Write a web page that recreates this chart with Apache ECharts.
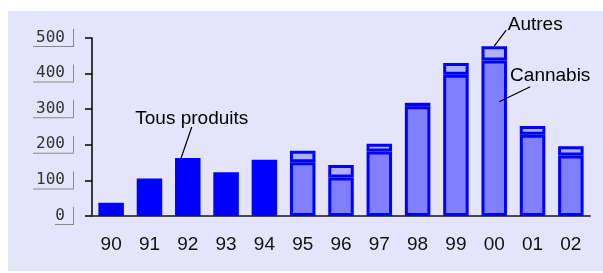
<!DOCTYPE html>
<html>
<head>
<meta charset="utf-8">
<script src="https://cdn.jsdelivr.net/npm/echarts@6/dist/echarts.min.js"></script>
<style>
  html, body { margin: 0; padding: 0; background: #fff; }
  #wrap { position: relative; width: 603px; height: 273px; }
  #bg { position: absolute; left: 8px; top: 11px; right: 0; bottom: 2px; background: #e4e4fa; }
  #chart { position: absolute; left: 0; top: 0; width: 603px; height: 273px; }
</style>
</head>
<body>
<div id="wrap"><div id="bg"></div><div id="chart"></div></div>
<script>
// années
const years = ['90', '91', '92', '93', '94', '95', '96', '97', '98', '99', '00', '01', '02']
// tous produits confondus (90-94)
const tous = [37, 105, 163, 123, 158, '-', '-', '-', '-', '-', '-', '-', '-']
// cannabis (95-02)
const cannabis = ['-', '-', '-', '-', '-', 151, 108, 181, 308, 397, 437, 228, 170]
// autres produits (95-02)
const autres = ['-', '-', '-', '-', '-', 32, 35, 22, 10, 33, 40, 25, 26]

// annotations: texte + point d'ancrage (catégorie, valeur)
const notes = [
  { text: 'Tous produits', cat: '92', val: 163 },
  { text: 'Autres', cat: '00', val: 477 },
  { text: 'Cannabis', cat: '00', val: 321 }
]
// décalages en pixels (ligne + texte)
const noteStyle = [
  { lx: -7, ly: 1, ex: 11, ey: -32, tx: 11, ty: -40 },
  { lx: 0, ly: 0, ex: 12, ey: -16, tx: 41, ty: -21 },
  { lx: 5, ly: 0, ex: 31, ey: -15, tx: 51, ty: -26 }
]

const myChart = echarts.init(document.getElementById('chart'))

const barBase = {
  type: 'bar',
  stack: 'tot',
  barWidth: 25.5,
  animation: false
}

const option = {
  animation: false,
  grid: { left: 92, right: 13, top: 38, bottom: 57 },
  xAxis: {
    type: 'category',
    data: years,
    axisTick: { show: false },
    axisLine: { lineStyle: { color: '#4a4a4a', width: 2 } },
    axisLabel: {
      margin: 19,
      fontFamily: 'Liberation Sans, Arial',
      fontSize: 19,
      color: '#111'
    }
  },
  yAxis: {
    type: 'value',
    min: 0,
    max: 500,
    interval: 100,
    splitLine: { show: false },
    axisLine: { show: true, lineStyle: { color: '#000', width: 1.5 } },
    axisTick: { show: true, length: 7, lineStyle: { color: '#000', width: 1.5 } },
    axisLabel: {
      margin: 18,
      formatter: v => '{n|' + v + '}{b|}\n{u' + String(v).length + '|}',
      rich: {
        n: { fontFamily: 'DejaVu Sans Mono', fontSize: 16, color: '#333', padding: [0, 8, 0, 0], height: 17 },
        b: { width: 1, height: 17, backgroundColor: '#888' },
        u1: { width: 19, height: 1, backgroundColor: '#888' },
        u3: { width: 41, height: 1, backgroundColor: '#888' }
      }
    }
  },
  series: [
    Object.assign({}, barBase, {
      name: 'Tous produits',
      data: tous,
      itemStyle: { color: '#0000ff', borderColor: '#0000ff', borderWidth: 2.5 }
    }),
    Object.assign({}, barBase, {
      name: 'Cannabis',
      data: cannabis,
      itemStyle: { color: '#8080ff', borderColor: '#0000ff', borderWidth: 3 }
    }),
    Object.assign({}, barBase, {
      name: 'Autres',
      data: autres,
      itemStyle: { color: '#b0b0ff', borderColor: '#0000ff', borderWidth: 3 }
    })
  ]
}

myChart.setOption(option)

// placer les annotations à partir des échelles du graphique
const graphics = []
notes.forEach((n, i) => {
  const s = noteStyle[i]
  const p = myChart.convertToPixel({ gridIndex: 0 }, [n.cat, n.val])
  const x0 = p[0] + s.lx
  const y0 = p[1] + s.ly
  graphics.push({
    type: 'line',
    shape: { x1: x0, y1: y0, x2: x0 + s.ex, y2: y0 + s.ey },
    style: { stroke: '#000', lineWidth: 1.2 },
    z: 10
  })
  graphics.push({
    type: 'text',
    x: x0 + s.tx,
    y: y0 + s.ty,
    style: {
      text: n.text,
      fontFamily: 'Liberation Sans, Arial',
      fontSize: 19,
      fill: '#000',
      align: 'center',
      verticalAlign: 'middle'
    },
    z: 10
  })
})
myChart.setOption({ graphic: graphics })
</script>
</body>
</html>
